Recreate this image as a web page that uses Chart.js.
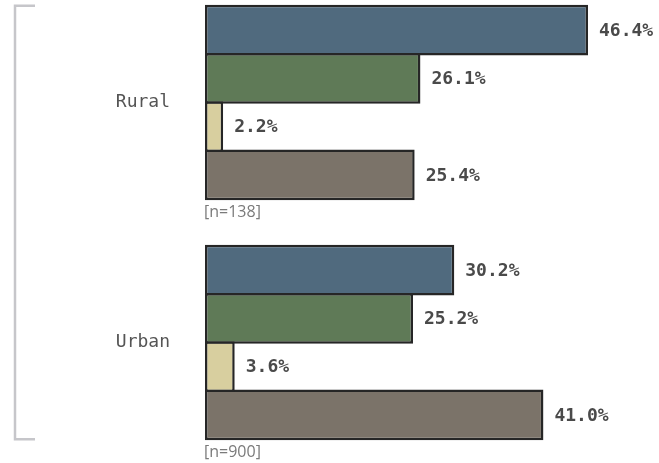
<!DOCTYPE html>
<html>
<head>
<meta charset="utf-8">
<script src="https://cdn.jsdelivr.net/npm/chart.js@4/dist/chart.umd.min.js"></script>
<style>
  html, body { margin: 0; padding: 0; background: #fff; }
  #wrap { width: 659px; height: 463px; position: relative; }
</style>
</head>
<body>
<div id="wrap"><canvas id="chart"></canvas></div>
<script>
// Grouped horizontal bars: share of respondents per area, four answer groups each
const AREAS = ["Rural", "Urban"];
const SAMPLE_N = [138, 900];
const SERIES_1 = [46.4, 30.2];
const SERIES_2 = [26.1, 25.2];
const SERIES_3 = [2.2, 3.6];
const SERIES_4 = [25.4, 41.0];
const COLORS = ["#506a7e", "#5f7a57", "#d8cf9f", "#7b7369"];

const MONO = "'DejaVu Sans Mono', monospace";
const SANS = "'Open Sans', 'Noto Sans', sans-serif";

// value labels to the right of every bar
const valueLabels = {
  id: "valueLabels",
  afterDatasetsDraw(chart) {
    const ctx = chart.ctx;
    ctx.save();
    ctx.font = "bold 18px " + MONO;
    ctx.fillStyle = "#4a4a4a";
    ctx.textAlign = "left";
    ctx.textBaseline = "middle";
    chart.data.datasets.forEach((ds, di) => {
      chart.getDatasetMeta(di).data.forEach((bar, i) => {
        ctx.fillText(ds.data[i].toFixed(1) + "%", bar.x + 11, bar.y + 1);
      });
    });
    ctx.restore();
  }
};

// [n=..] under each group + grey bracket on the left
const groupExtras = {
  id: "groupExtras",
  afterDraw(chart) {
    const ctx = chart.ctx;
    const first = chart.getDatasetMeta(0).data;
    const last = chart.getDatasetMeta(chart.data.datasets.length - 1).data;
    ctx.save();
    ctx.font = "16px " + SANS;
    ctx.fillStyle = "#7a7a7a";
    ctx.textAlign = "left";
    ctx.textBaseline = "middle";
    last.forEach((bar, i) => {
      ctx.fillText("[n=" + SAMPLE_N[i] + "]", chart.chartArea.left - 1, bar.y + bar.height / 2 + 12);
    });
    const top = first[0].y - first[0].height / 2;
    const lb = last[last.length - 1];
    const bottom = lb.y + lb.height / 2;
    ctx.strokeStyle = "#c6c6ca";
    ctx.lineWidth = 2.5;
    ctx.beginPath();
    ctx.moveTo(35, top + 1);
    ctx.lineTo(15, top + 1);
    ctx.lineTo(15, bottom - 1);
    ctx.lineTo(35, bottom - 1);
    ctx.stroke();
    ctx.restore();
  }
};

// bars overlap by one border so neighbours share a single dark edge
const mk = (data, i) => ({
  data, backgroundColor: COLORS[i], borderColor: "#262626", borderWidth: 2.5,
  borderSkipped: false, categoryPercentage: 0.805, barPercentage: 1.05, clip: false
});

new Chart(document.getElementById("chart"), {
  type: "bar",
  data: { labels: AREAS, datasets: [mk(SERIES_1, 0), mk(SERIES_2, 1), mk(SERIES_3, 2), mk(SERIES_4, 3)] },
  options: {
    indexAxis: "y",
    responsive: true, maintainAspectRatio: false, animation: false,
    layout: { padding: { left: 0, right: 0, top: 102.5, bottom: 120.5 } },
    plugins: { legend: { display: false }, tooltip: { enabled: false } },
    scales: {
      x: { display: false, min: 0, max: 55 },
      y: {
        offset: false,
        grid: { display: false, drawTicks: false },
        border: { display: false },
        ticks: { padding: 35, color: "#555", font: { family: MONO, size: 18 } },
        afterFit: (s) => { s.width = 205; }
      }
    }
  },
  plugins: [valueLabels, groupExtras]
});
</script>
</body>
</html>
